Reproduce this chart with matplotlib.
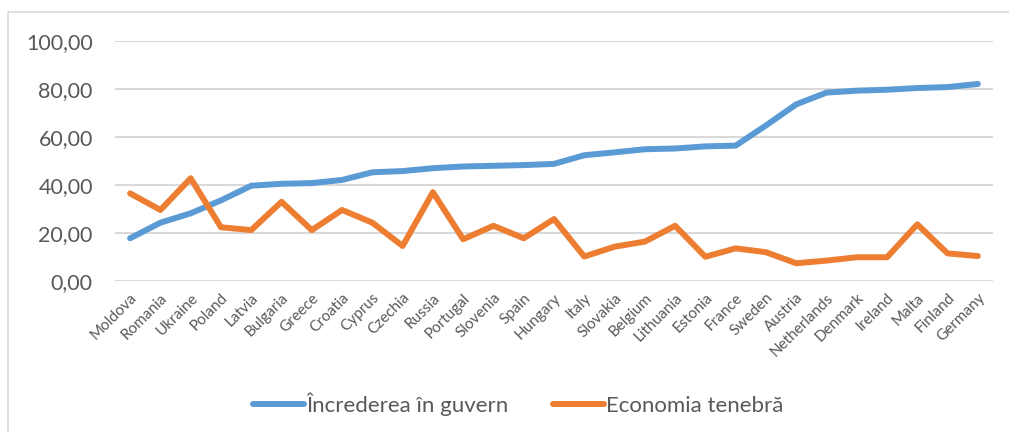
import matplotlib.pyplot as plt
from matplotlib.patches import Rectangle

countries = ['Moldova', 'Romania', 'Ukraine', 'Poland', 'Latvia', 'Bulgaria', 'Greece',
             'Croatia', 'Cyprus', 'Czechia', 'Russia', 'Portugal', 'Slovenia', 'Spain',
             'Hungary', 'Italy', 'Slovakia', 'Belgium', 'Lithuania', 'Estonia', 'France',
             'Sweden', 'Austria', 'Netherlands', 'Denmark', 'Ireland', 'Malta', 'Finland',
             'Germany']
incredere = [17.8, 24.3, 28.2, 33.6, 39.7, 40.5, 40.8, 42.1, 45.3, 45.8, 47.0, 47.7,
             48.0, 48.3, 48.8, 52.4, 53.6, 54.9, 55.2, 56.1, 56.4, 64.8, 73.6, 78.5,
             79.3, 79.7, 80.4, 80.8, 82.1]
economie = [36.5, 29.6, 42.8, 22.4, 21.2, 33.0, 21.2, 29.6, 24.3, 14.6, 37.0, 17.4,
            23.0, 17.8, 25.8, 10.2, 14.3, 16.4, 23.0, 10.1, 13.6, 12.0, 7.4, 8.5,
            9.9, 9.9, 23.6, 11.5, 10.4]
yticks = [0, 20, 40, 60, 80, 100]

plt.rcParams['font.family'] = ['Lato', 'DejaVu Sans']
gray = '#595959'

fig = plt.figure(figsize=(10.09, 4.32), dpi=100)
# chenar exterior (doar stanga si sus se vad)
fig.patches.append(Rectangle((8 / 1009, -0.1), 1.2, 1 - 12 / 432 + 0.1,
                             transform=fig.transFigure, fill=False,
                             edgecolor='#D9D9D9', linewidth=1.2))

ax = fig.add_axes([115 / 1009, 1 - 281 / 432, (993 - 115) / 1009, (281 - 41) / 432])
x = range(len(countries))
ax.plot(x, incredere, color='#5B9BD5', linewidth=4.3, solid_capstyle='round',
        solid_joinstyle='round', label='Încrederea în guvern')
ax.plot(x, economie, color='#ED7D31', linewidth=4.3, solid_capstyle='round',
        solid_joinstyle='round', label='Economia tenebră')

ax.set_xlim(-0.5, len(countries) - 0.5)
ax.set_ylim(0, 100)
ax.set_yticks(yticks)
ax.set_yticklabels([f'{v:.2f}'.replace('.', ',') for v in yticks], fontsize=15.5, color=gray)
ax.set_xticks(list(x))
ax.set_xticklabels(countries, rotation=45, ha='right', va='top', rotation_mode='anchor',
                   fontsize=11, color=gray)
ax.tick_params(axis='y', length=0, pad=16)
ax.tick_params(axis='x', length=0, pad=7)
ax.grid(axis='y', color='#D9D9D9', linewidth=1.5)
ax.set_axisbelow(True)
for s in ax.spines.values():
    s.set_visible(False)

fig.legend(loc='center', bbox_to_anchor=(518 / 1009, 1 - 404 / 432), ncol=2, frameon=False,
           fontsize=16, labelcolor=gray, handlelength=2.3, handletextpad=0.1,
           columnspacing=2.0)

plt.savefig('out.png', dpi=100)
